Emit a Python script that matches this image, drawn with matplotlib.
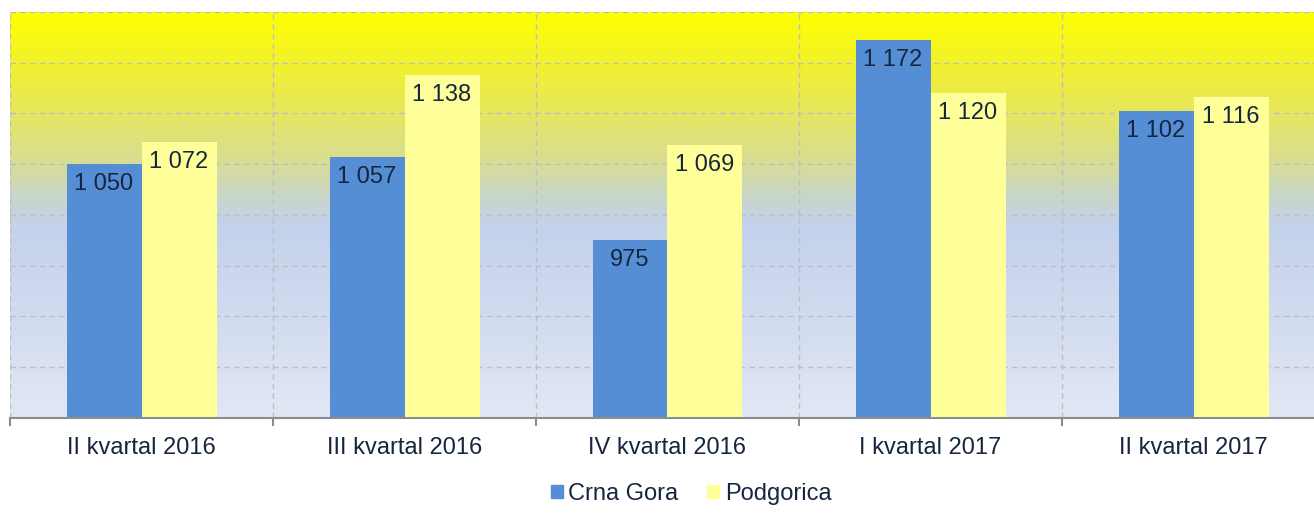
import numpy as np
import matplotlib.pyplot as plt
from matplotlib.colors import LinearSegmentedColormap
from matplotlib.patches import Patch

# --- data ---
categories = ['II kvartal 2016', 'III kvartal 2016', 'IV kvartal 2016', 'I kvartal 2017', 'II kvartal 2017']
crna_gora = [1050, 1057, 975, 1172, 1102]
podgorica = [1072, 1138, 1069, 1120, 1116]

blue = '#558ED5'
yellow = '#FFFF99'
txt = '#17263F'
grid_c = '#BFBFBF'

plt.rcParams['font.family'] = ['Liberation Sans', 'DejaVu Sans']

fig = plt.figure(figsize=(13.14, 5.26), dpi=100)
W, H = 1314, 526
ax = fig.add_axes([10 / W, (H - 418) / H, 1315 / W, 406 / H])

ymin, ymax = 800, 1200
ax.set_xlim(-0.5, len(categories) - 0.5)
ax.set_ylim(ymin, ymax)

# gradient background (0 = top, 1 = bottom)
bg = LinearSegmentedColormap.from_list('bg', [
    (0.0, '#FFFF00'),
    (0.12, '#F3F22A'),
    (0.25, '#E6E660'),
    (0.37, '#D8DD95'),
    (0.45, '#C9D6C6'),
    (0.52, '#C3D1EB'),
    (1.0, '#E1E7F4'),
])
grad = np.linspace(1, 0, 256).reshape(-1, 1)
ax.imshow(grad, cmap=bg, vmin=0, vmax=1, aspect='auto',
          extent=(-0.5, len(categories) - 0.5, ymin, ymax), origin='lower', zorder=0)

# grid
for yv in np.arange(850, 1201, 50):
    ax.axhline(yv, color=grid_c, lw=1, ls=(0, (4, 3)), zorder=1)
for xv in np.arange(-0.5, len(categories), 1):
    ax.axvline(xv, color=grid_c, lw=1, ls=(0, (4, 3)), zorder=1)

x = np.arange(len(categories))
bw = 75 / 263
b1 = ax.bar(x - bw / 2, crna_gora, bw, color=blue, zorder=2)
b2 = ax.bar(x + bw / 2, podgorica, bw, color=yellow, zorder=2)


def fmt(v):
    return f'{v:,}'.replace(',', ' ')


for bars, vals in [(b1, crna_gora), (b2, podgorica)]:
    for r, v in zip(bars, vals):
        ax.annotate(fmt(v), (r.get_x() + r.get_width() / 2, v), xytext=(0, -6.5),
                    textcoords='offset points', ha='center', va='top',
                    fontsize=17, color=txt, zorder=3)

for s in ['top', 'left', 'right']:
    ax.spines[s].set_visible(False)
ax.spines['bottom'].set_color('#8C8C8C')
ax.spines['bottom'].set_linewidth(1.5)
ax.spines['bottom'].set_zorder(4)

ax.set_yticks([])
ax.set_xticks(x)
ax.set_xticklabels(categories, fontsize=17, color=txt)
ax.tick_params(axis='x', which='major', length=0, pad=14)
ax.set_xticks(np.arange(-0.5, len(categories), 1), minor=True)
ax.tick_params(axis='x', which='minor', length=6, width=1.5, color='#8C8C8C', direction='out')

handles = [Patch(color=blue, label='Crna Gora'), Patch(color=yellow, label='Podgorica')]
fig.legend(handles=handles, loc='center', bbox_to_anchor=(691 / W, 1 - 494 / H), ncol=2,
           frameon=False, fontsize=17, handlelength=0.5, handleheight=0.5,
           handletextpad=0.25, columnspacing=1.2, labelcolor=txt)

fig.savefig('out.png', dpi=100)
